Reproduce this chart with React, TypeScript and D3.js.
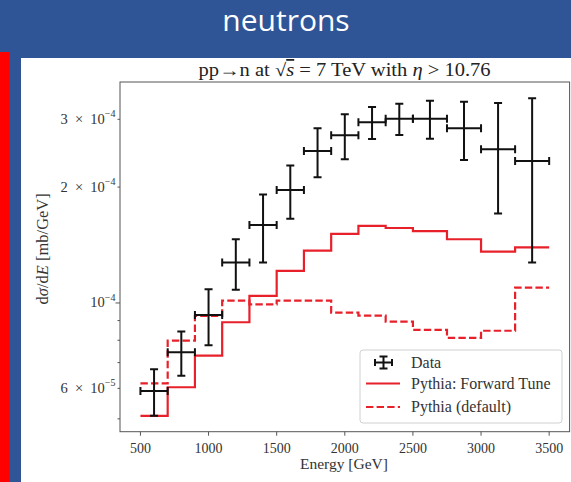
import React from "react";
import * as d3 from "d3";

const binEdges = [500, 700, 900, 1100, 1300, 1500, 1700, 1900, 2100, 2300, 2500, 2750, 3000, 3250, 3500];
// values in units of 1e-4 mb/GeV
const dataVals = [0.591, 0.745, 0.931, 1.273, 1.594, 1.966, 2.482, 2.727, 2.947, 3.011, 3.011, 2.843, 2.507, 2.338];
const dataErr = [0.082, 0.098, 0.155, 0.19, 0.32, 0.31, 0.36, 0.365, 0.28, 0.28, 0.34, 0.49, 0.8, 1.065];
const forwardTune = [0.509, 0.604, 0.73, 0.891, 1.043, 1.211, 1.367, 1.511, 1.585, 1.566, 1.536, 1.464, 1.359, 1.395];
const defaultTune = [0.618, 0.798, 0.925, 1.014, 0.992, 1.014, 1.014, 0.944, 0.927, 0.894, 0.851, 0.812, 0.847, 1.096];
const xTicks = [500, 1000, 1500, 2000, 2500, 3000, 3500];
const yLabeled = [
  { v: 3e-4, m: "3", e: "−4" },
  { v: 2e-4, m: "2", e: "−4" },
  { v: 1e-4, m: "", e: "−4" },
  { v: 6e-5, m: "6", e: "−5" },
];
const yMinor = [5e-5, 7e-5, 8e-5, 9e-5];
const legendItems = ["Data", "Pythia: Forward Tune", "Pythia (default)"];

const W = 571;
const H = 482;
const L = 120, R = 569.6, T = 82, B = 431.7;
const RED = "#e8202a";
const SERIF = "'Liberation Serif', 'Times New Roman', serif";
const TXT = "#333";

export default function App() {
  const x = d3.scaleLinear().domain([350, 3650]).range([L, R]);
  const y = d3.scaleLog().domain([4.63e-5, 3.75e-4]).range([B, T]);

  const stepPts = (vals: number[]) => {
    const pts: [number, number][] = vals.map((v, i) => [binEdges[i], v * 1e-4]);
    pts.push([binEdges[binEdges.length - 1], vals[vals.length - 1] * 1e-4]);
    return pts;
  };
  const line = d3
    .line<[number, number]>()
    .x((d) => x(d[0]))
    .y((d) => y(d[1]))
    .curve(d3.curveStepAfter);

  const cap = 4;
  const legendY = [367.5, 388.5, 412];

  return (
    <svg width={W} height={H} style={{ position: "absolute", left: 0, top: 0 }} xmlns="http://www.w3.org/2000/svg">
      <rect x={0} y={0} width={W} height={H} fill="#2f5597" />
      <text x={286} y={31} fill="#fff" fontFamily="'Open Sans', sans-serif" fontSize={30} textAnchor="middle">
        neutrons
      </text>
      <rect x={0} y={52} width={9.5} height={H - 52} fill="#ff0000" />
      <rect x={21} y={58} width={W - 21} height={H - 58} fill="#fff" />

      <defs>
        <clipPath id="plotclip">
          <rect x={L} y={T} width={R - L} height={B - T} />
        </clipPath>
      </defs>

      {/* title */}
      <text
        x={344.6}
        y={76}
        fontFamily={SERIF}
        fontSize={18}
        textAnchor="middle"
        fill="#222"
        textLength={292}
        lengthAdjust="spacingAndGlyphs"
      >
        pp→n at √<tspan fontStyle="italic" textDecoration="overline">s</tspan> = 7 TeV with{" "}
        <tspan fontStyle="italic">η</tspan> {">"} 10.76
      </text>

      {/* series */}
      <g clipPath="url(#plotclip)">
        <path d={line(stepPts(forwardTune)) || ""} fill="none" stroke={RED} strokeWidth={2.2} />
        <path d={line(stepPts(defaultTune)) || ""} fill="none" stroke={RED} strokeWidth={2.2} strokeDasharray="7.4 3.2" />
        {dataVals.map((v, i) => {
          const cx = x((binEdges[i] + binEdges[i + 1]) / 2);
          const x0 = x(binEdges[i]);
          const x1 = x(binEdges[i + 1]);
          const cy = y(v * 1e-4);
          const yt = y((v + dataErr[i]) * 1e-4);
          const yb = y((v - dataErr[i]) * 1e-4);
          return (
            <g key={i} stroke="#111" strokeWidth={2} fill="none">
              <line x1={x0} x2={x1} y1={cy} y2={cy} />
              <line x1={cx} x2={cx} y1={yt} y2={yb} />
              <line x1={cx - cap} x2={cx + cap} y1={yt} y2={yt} />
              <line x1={cx - cap} x2={cx + cap} y1={yb} y2={yb} />
              <line x1={x0} x2={x0} y1={cy - cap} y2={cy + cap} />
              <line x1={x1} x2={x1} y1={cy - cap} y2={cy + cap} />
            </g>
          );
        })}
      </g>

      {/* frame */}
      <rect x={L} y={T} width={R - L} height={B - T} fill="none" stroke="#555" strokeWidth={1} />

      {/* x axis */}
      {xTicks.map((t) => (
        <g key={t}>
          <line x1={x(t)} x2={x(t)} y1={B} y2={B + 4} stroke="#555" />
          <text x={x(t)} y={B + 21} fontFamily={SERIF} fontSize={14} textAnchor="middle" fill={TXT}>
            {t}
          </text>
        </g>
      ))}
      <text x={344} y={469} fontFamily={SERIF} fontSize={15.5} textAnchor="middle" fill={TXT}>
        Energy [GeV]
      </text>

      {/* y axis */}
      {yLabeled.map((t) => (
        <g key={t.v}>
          <line x1={L} x2={L - (t.m === "" ? 4.5 : 2.5)} y1={y(t.v)} y2={y(t.v)} stroke="#555" />
          <text x={L - 4.5} y={y(t.v) + 4.5} fontFamily={SERIF} fontSize={14.5} textAnchor="end" fill={TXT}>
            {t.m !== "" ? `${t.m}\u2002×\u200210` : "10"}
            <tspan dy={-6.5} fontSize={10}>
              {t.e}
            </tspan>
          </text>
        </g>
      ))}
      {yMinor.map((v) => (
        <line key={v} x1={L} x2={L - 2.5} y1={y(v)} y2={y(v)} stroke="#555" />
      ))}
      <text
        transform={`translate(48, ${(T + B) / 2 - 8}) rotate(-90)`}
        fontFamily={SERIF}
        fontSize={16.5}
        textAnchor="middle"
        fill={TXT}
      >
        d<tspan fontStyle="italic">σ</tspan>/d<tspan fontStyle="italic">E</tspan> [mb/GeV]
      </text>

      {/* legend */}
      <rect x={360} y={350} width={202} height={73} rx={3} fill="#fff" fillOpacity={0.85} stroke="#d0d0d0" />
      <g stroke="#111" strokeWidth={2}>
        <line x1={375} x2={392} y1={362.5} y2={362.5} />
        <line x1={383.5} x2={383.5} y1={356.5} y2={368.5} />
        <line x1={379.5} x2={387.5} y1={356.5} y2={356.5} />
        <line x1={379.5} x2={387.5} y1={368.5} y2={368.5} />
        <line x1={375} x2={375} y1={359} y2={366} />
        <line x1={392} x2={392} y1={359} y2={366} />
      </g>
      <line x1={366} x2={400} y1={383.5} y2={383.5} stroke={RED} strokeWidth={2.2} />
      <line x1={366} x2={400} y1={407} y2={407} stroke={RED} strokeWidth={2.2} strokeDasharray="7.4 3.2" />
      {legendItems.map((s, i) => (
        <text key={s} x={411} y={legendY[i]} fontFamily={SERIF} fontSize={16} fill={TXT}>
          {s}
        </text>
      ))}
    </svg>
  );
}
